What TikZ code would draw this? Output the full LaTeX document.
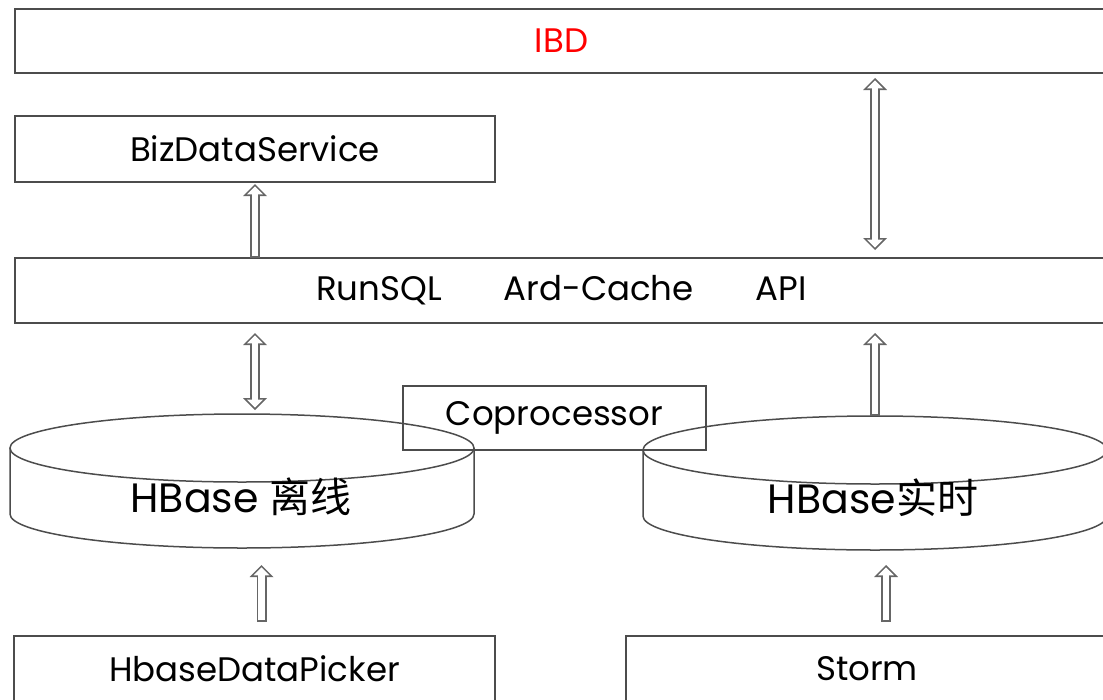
\documentclass[tikz,border=0pt]{standalone}
\usepackage{fontspec}
\setmainfont{Poppins}
\newfontfamily\cjk{Noto Sans CJK SC}
\usetikzlibrary{arrows.meta,shapes.geometric}

\begin{document}
\begin{tikzpicture}[x=1pt, y=-1pt,
  box/.style={draw=black!70, line width=1.5pt, inner sep=0pt, outer sep=0pt,
    font=\fontsize{34}{40}\selectfont},
  db/.style={ellipse, draw=black!70, line width=1.5pt, inner sep=0pt, outer sep=0pt,
    minimum width=464pt, minimum height=68pt},
  dbline/.style={draw=black!70, line width=1.5pt},
  dblabel/.style={font=\fontsize{41}{48}\selectfont},
  hollow/.style 2 args={line width=10pt, draw=black!60, shorten <=#1, shorten >=#2,
    -{Triangle[length=12pt,width=24pt,line width=0pt]},
    postaction={draw=white, line width=6.6pt, shorten <=#1+1.7pt, shorten >=#2+2.4pt,
      -{Triangle[length=7.9pt,width=15.8pt,line width=0pt]}}},
  hollowboth/.style 2 args={line width=10pt, draw=black!60, shorten <=#1, shorten >=#2,
    {Triangle[length=12pt,width=24pt,line width=0pt]}-{Triangle[length=12pt,width=24pt,line width=0pt]},
    postaction={draw=white, line width=6.6pt, shorten <=#1+2.4pt, shorten >=#2+2.4pt,
      {Triangle[length=7.9pt,width=15.8pt,line width=0pt]}-{Triangle[length=7.9pt,width=15.8pt,line width=0pt]}}}]
  \useasboundingbox (0,0) rectangle (1103,699);
  \clip (0,0) rectangle (1103,699);

  % boxes
  \node[box, text=red, minimum width=1093pt, minimum height=64pt] (ibd) at (561.5,41) {IBD};
  \node[box, minimum width=480pt, minimum height=66pt] (biz) at (255,149) {BizDataService};
  \node[box, minimum width=1093pt, minimum height=65pt] (run) at (561.5,290.5)
    {RunSQL\hspace{62pt}Ard-Cache\hspace{62pt}API};
  \node[box, minimum width=303pt, minimum height=64pt] (copro) at (554.5,418) {Coprocessor};
  \node[box, minimum width=481pt, minimum height=66pt] (picker) at (254.5,669) {HbaseDataPicker};
  \node[box, minimum width=482pt, minimum height=66pt] (storm) at (867,669) {Storm};

  % hbase tables
  \node[db] (hoff) at (242,448) {};
  \draw[dbline] (hoff.west) -- ++(0,66)
    arc[start angle=180, end angle=360, x radius=232pt, y radius=34pt] -- (hoff.east);
  \coordinate (hoffbot) at ([yshift=-66pt]hoff.south);
  \node[dblabel] (hofftext) at (241,497) {HBase {\cjk 离线}};

  \node[db] (hon) at (875,450) {};
  \draw[dbline] (hon.west) -- ++(0,66)
    arc[start angle=180, end angle=360, x radius=232pt, y radius=34pt] -- (hon.east);
  \coordinate (honbot) at ([yshift=-66pt]hon.south);
  \node[dblabel] (hontext) at (873,498) {HBase{\cjk 实时}};

  % arrows
  \draw[hollow={0pt}{2pt}] (biz.south |- run.north) -- (biz.south);
  \draw[hollowboth={5pt}{8pt}] (hon.north |- ibd.south) -- (hon.north |- run.north);
  \draw[hollowboth={10pt}{4pt}] (biz.south |- run.south) -- (biz.south |- hoff.north);
  \draw[hollow={0pt}{10pt}] (hon.north) -- (hon.north |- run.south);
  \draw[hollow={14pt}{17pt}] ([xshift=7pt]picker.north) -- ([xshift=7pt]picker.north |- hoffbot);
  \draw[hollow={14pt}{15pt}] ([xshift=19pt]storm.north) -- ([xshift=19pt]storm.north |- honbot);
\end{tikzpicture}
\end{document}
